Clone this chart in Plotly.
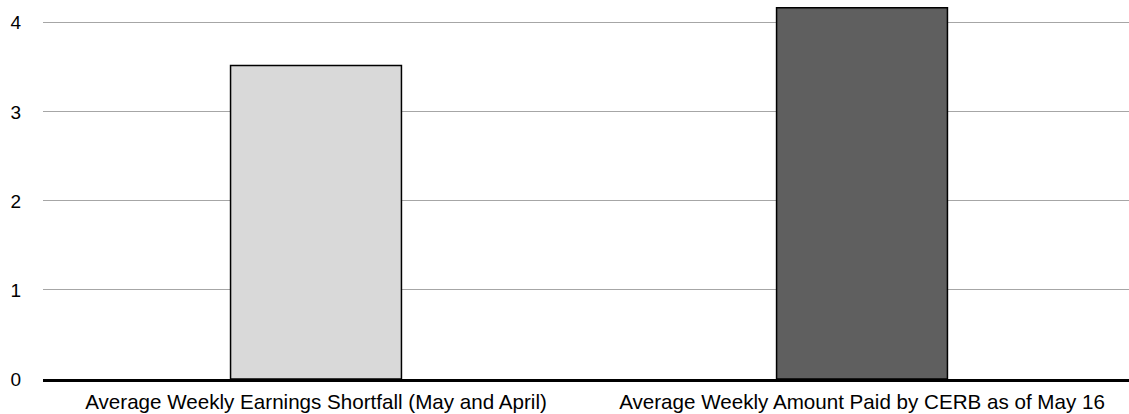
import plotly.graph_objects as go

# Chart data
categories = ['Average Weekly Earnings Shortfall (May and April)',
              'Average Weekly Amount Paid by CERB as of May 16']
values = [3.52, 4.17]
bar_colors = ['#d9d9d9', '#5f5f5f']

fig = go.Figure()
fig.add_trace(go.Bar(x = categories,
                     y = values,
                     marker_color = bar_colors,
                     marker_line_color = 'black',
                     marker_line_width = 1.5,
                     width = 0.313))

fig.update_layout(width = 1129, height = 414,
                  margin = dict(l = 43, r = 0, t = 5, b = 35),
                  plot_bgcolor = 'white',
                  paper_bgcolor = 'white',
                  font = dict(family = 'Liberation Sans, Arial', size = 18, color = 'black'),
                  showlegend = False)

fig.update_xaxes(range = [-0.5, 1.489],
                 automargin = False,
                 showline = True, linecolor = 'black', linewidth = 3,
                 showgrid = False, ticks = '',
                 ticklabelstandoff = 2,
                 tickfont = dict(size = 20.6))

fig.update_yaxes(range = [0, 4.2],
                 automargin = False,
                 tickvals = [0, 1, 2, 3, 4],
                 showgrid = True, gridcolor = '#a6a6a6', gridwidth = 1,
                 zeroline = False, showline = False,
                 ticklabelstandoff = 21,
                 tickfont = dict(size = 19))

# Remove the default page margin so the figure sits at the window corner
fig.write_html("out.html",
               config = {'displayModeBar': False},
               post_script = "document.body.style.margin = '0';")
